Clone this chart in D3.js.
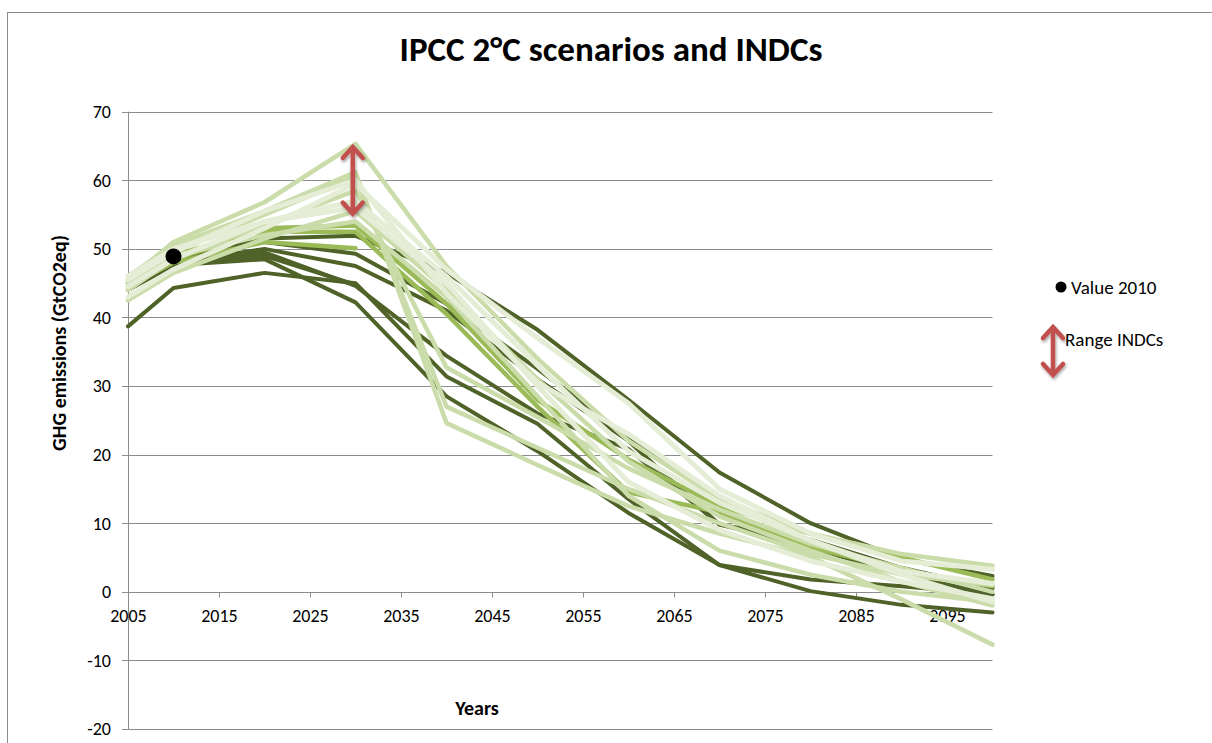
<!DOCTYPE html>
<html>
<head>
<meta charset="utf-8">
<script src="https://cdn.jsdelivr.net/npm/d3@7"></script>
<style>
  body { margin: 0; background: #fff; }
  svg { display: block; font-family: Carlito, Calibri, Lato, sans-serif; }
</style>
</head>
<body>
<div id="chart"></div>
<script>
const width = 1212;
const height = 743;

// Data
const years = [2005, 2010, 2020, 2030, 2040, 2050, 2060, 2070, 2080, 2090, 2100];
const yTicks = [-20, -10, 0, 10, 20, 30, 40, 50, 60, 70];
const xTicks = [2005, 2015, 2025, 2035, 2045, 2055, 2065, 2075, 2085, 2095];

// dark olive scenarios
const darkScenarios = [
  [38.7, 44.3, 46.5, 45.0, 31.4, 24.5, 13.5, 3.9, 1.8, 0.8, -0.4],
  [44.0, 47.6, 48.5, 42.2, 28.5, 20.5, 11.5, 3.9, 0.1, -1.9, -3.0],
  [44.2, 48.2, 49.5, 44.6, 34.4, 26.0, 20.8, 9.8, 7.6, 3.5, 0.5],
  [45.0, 48.8, 51.5, 51.9, 46.5, 38.2, 28.0, 17.4, 10.0, 4.8, 2.3],
  [44.5, 48.3, 51.0, 49.3, 42.0, 32.5, 22.5, 13.5, 7.0, 3.0, 1.0],
  [44.8, 48.0, 50.0, 47.5, 41.0, 31.0, 22.0, 9.8, 6.5, 2.5, -0.4],
  [44.0, 48.0, 49.0, 44.8, null, null, null, null, null, null, null]
];

// mid green scenarios
const midScenarios = [
  [45.5, 49.0, 53.0, 53.4, 42.0, 28.0, 19.3, 12.5, 8.5, 5.0, 1.8],
  [45.0, 48.5, 52.5, 52.5, 40.5, 27.0, 14.5, 11.6, 6.5, 3.2, 0.8],
  [44.5, 48.0, 51.0, 50.1, null, null, null, null, null, null, null]
];

// light green scenarios
const lightScenarios = [
  [45.5, 51.0, 56.8, 65.3, 47.5, 34.0, 22.0, 13.5, 8.5, 5.5, 3.8],
  [46.0, 50.5, 55.5, 61.2, 24.6, 18.5, 12.5, 8.5, 5.1, -1.1, -7.7],
  [45.0, 49.5, 55.0, 60.5, 27.0, 21.0, 15.0, 10.0, 5.5, 2.5, 1.0],
  [44.0, 48.5, 53.5, 58.5, 32.7, 25.5, 18.0, 12.0, 7.0, 3.5, 0.0],
  [42.5, 46.5, 51.5, 55.5, 44.0, 31.0, 19.0, 11.0, 6.0, 1.5, -2.0],
  [45.0, 49.0, 52.0, 54.0, 43.0, 28.5, 14.0, 6.0, 2.5, 0.0, -1.5]
];

// palest scenarios
const paleScenarios = [
  [43.0, 47.0, 53.0, 59.5, 47.0, 37.0, 27.5, 15.0, 8.5, 4.5, 3.3],
  [44.5, 48.5, 54.0, 57.0, 46.0, 33.0, 20.5, 13.0, 7.5, 2.5, -1.5],
  [46.0, 50.0, 54.0, 56.0, 45.0, 30.0, 16.0, 9.0, 4.5, 1.5, -1.0],
  [45.5, 49.5, 55.5, 60.0, 43.5, 30.5, 23.0, 14.0, 7.5, 3.0, 1.2]
];

const value2010 = { year: 2010, value: 48.9 };
const indcRange = { year: 2029.7, low: 55, high: 65 };

const groups = [
  { data: darkScenarios, color: "#4f6228", w: 4 },
  { data: midScenarios, color: "#9bbb59", w: 4.5 },
  { data: lightScenarios, color: "#cadcaa", w: 4.5 },
  { data: paleScenarios, color: "#e5edd6", w: 5 }
];

const svg = d3.select("#chart").append("svg")
  .attr("width", width)
  .attr("height", height);

// chart border
svg.append("rect")
  .attr("x", 7.5).attr("y", 12.5)
  .attr("width", width + 10).attr("height", height + 10)
  .attr("fill", "none").attr("stroke", "#8c8c8c");

const x = d3.scaleLinear().domain([2005, 2100]).range([128, 992.5]);
const y = d3.scaleLinear().domain([-20, 70]).range([729, 111.7]);

// gridlines
svg.append("g")
  .selectAll("line")
  .data(yTicks)
  .join("line")
  .attr("x1", x(2005) - 6).attr("x2", x(2100))
  .attr("y1", (d) => Math.round(y(d)) + 0.5)
  .attr("y2", (d) => Math.round(y(d)) + 0.5)
  .attr("stroke", "#8c8c8c");

// y axis line
svg.append("line")
  .attr("x1", x(2005) + 0.5).attr("x2", x(2005) + 0.5)
  .attr("y1", y(70)).attr("y2", y(-20))
  .attr("stroke", "#8c8c8c");

// y labels
svg.append("g")
  .selectAll("text")
  .data(yTicks)
  .join("text")
  .attr("x", 111)
  .attr("y", (d) => y(d))
  .attr("dy", "0.35em")
  .attr("text-anchor", "end")
  .attr("font-size", 18)
  .attr("fill", "#000")
  .text((d) => d);

// x axis ticks at y=0
const xAxis = d3.axisBottom(x)
  .tickValues(xTicks)
  .tickFormat(d3.format("d"))
  .tickSize(5)
  .tickSizeOuter(0);
const xg = svg.append("g")
  .attr("transform", `translate(0,${Math.round(y(0)) + 0.5})`)
  .call(xAxis);
xg.select(".domain").remove();
xg.selectAll(".tick line").attr("stroke", "#8c8c8c");
xg.selectAll(".tick text")
  .attr("y", 17)
  .attr("font-size", 18)
  .attr("font-family", "Carlito, Calibri, Lato, sans-serif")
  .attr("fill", "#000");

// scenario lines
const line = d3.line()
  .defined((d) => d != null)
  .x((d, i) => x(years[i]))
  .y((d) => y(d));

groups.forEach((grp) => {
  svg.append("g")
    .selectAll("path")
    .data(grp.data)
    .join("path")
    .attr("d", line)
    .attr("fill", "none")
    .attr("stroke", grp.color)
    .attr("stroke-width", grp.w)
    .attr("stroke-linejoin", "round")
    .attr("stroke-linecap", "round");
});

// value 2010 point
svg.append("circle")
  .attr("cx", x(value2010.year))
  .attr("cy", y(value2010.value))
  .attr("r", 8)
  .attr("fill", "#000");

// shadow filter for arrows
const defs = svg.append("defs");
const f = defs.append("filter").attr("id", "shadow")
  .attr("x", "-50%").attr("y", "-20%").attr("width", "200%").attr("height", "140%");
f.append("feDropShadow")
  .attr("dx", 1).attr("dy", 2).attr("stdDeviation", 1.5)
  .attr("flood-color", "#000").attr("flood-opacity", 0.35);

function doubleArrow(g, cx, top, bottom) {
  const hw = 10, hh = 12;
  const a = g.append("g").attr("filter", "url(#shadow)")
    .attr("stroke", "#c0504d").attr("stroke-width", 4.5)
    .attr("fill", "none").attr("stroke-linecap", "round").attr("stroke-linejoin", "miter");
  a.append("line").attr("x1", cx).attr("x2", cx).attr("y1", top + 2).attr("y2", bottom - 2);
  a.append("path").attr("d", `M${cx - hw},${top + hh} L${cx},${top + 1} L${cx + hw},${top + hh}`);
  a.append("path").attr("d", `M${cx - hw},${bottom - hh} L${cx},${bottom - 1} L${cx + hw},${bottom - hh}`);
}

doubleArrow(svg, x(indcRange.year), y(indcRange.high), y(indcRange.low));

// title
svg.append("text")
  .attr("x", 611)
  .attr("y", 61)
  .attr("text-anchor", "middle")
  .attr("font-size", 35)
  .attr("font-weight", "bold")
  .text("IPCC 2°C scenarios and INDCs");

// axis titles
svg.append("text")
  .attr("transform", "translate(66,343) rotate(-90)")
  .attr("text-anchor", "middle")
  .attr("font-size", 20)
  .attr("font-weight", "bold")
  .text("GHG emissions (GtCO2eq)");

svg.append("text")
  .attr("x", 477)
  .attr("y", 715)
  .attr("text-anchor", "middle")
  .attr("font-size", 20)
  .attr("font-weight", "bold")
  .text("Years");

// legend
svg.append("circle").attr("cx", 1061).attr("cy", 287).attr("r", 5.5).attr("fill", "#000");
svg.append("text").attr("x", 1071).attr("y", 294)
  .attr("font-size", 19).text("Value 2010");

doubleArrow(svg, 1053, 326, 376);
svg.append("text").attr("x", 1065).attr("y", 346)
  .attr("font-size", 19).text("Range INDCs");
</script>
</body>
</html>
